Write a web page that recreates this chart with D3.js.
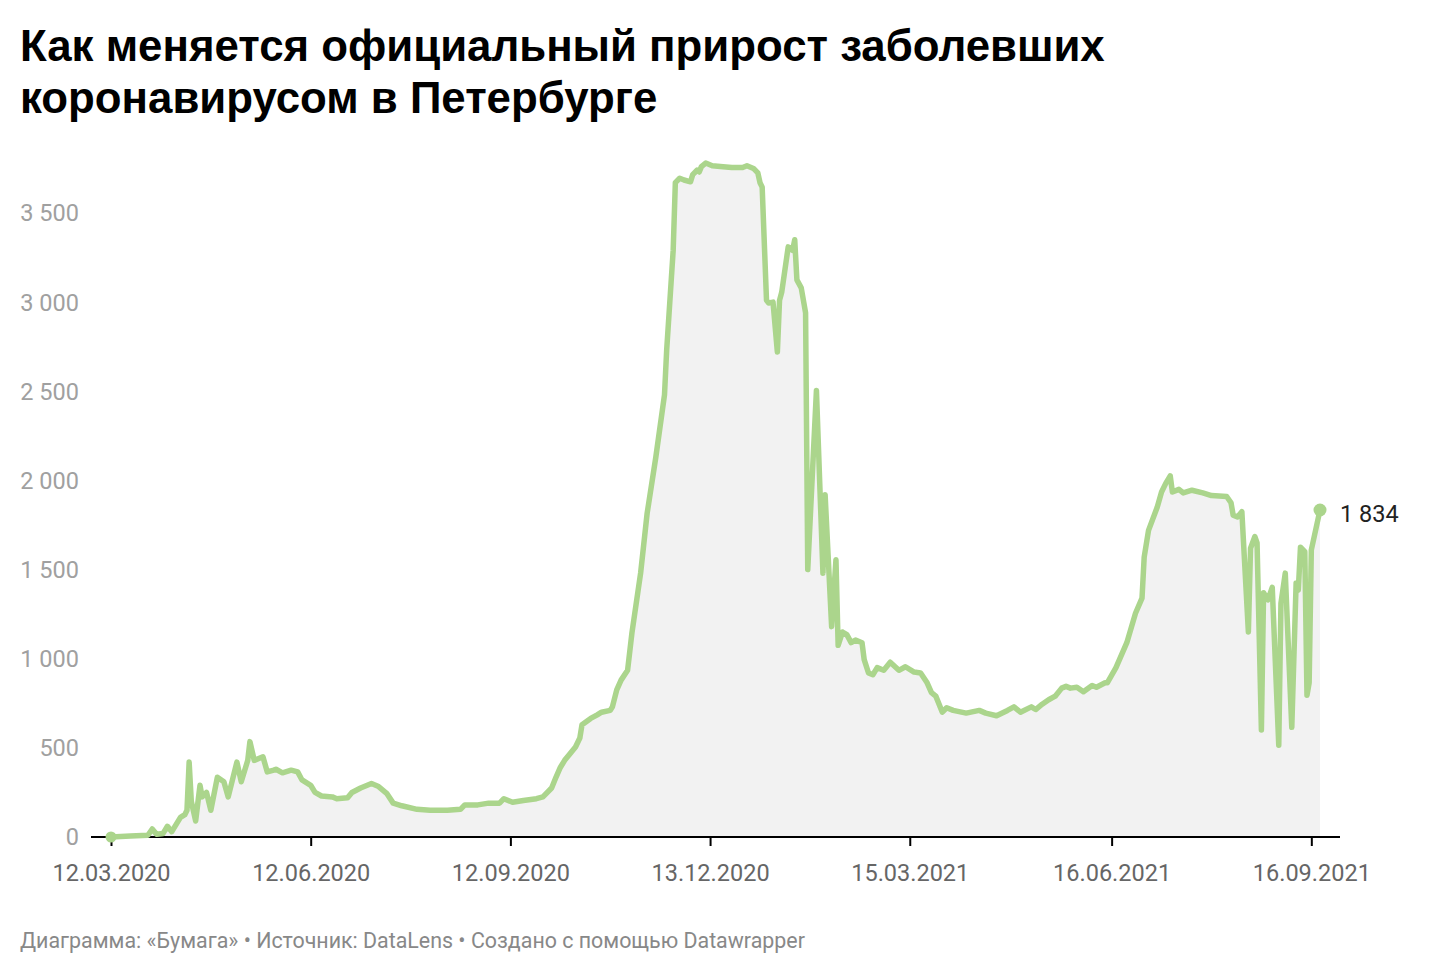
<!DOCTYPE html>
<html>
<head>
<meta charset="utf-8">
<script src="https://cdn.jsdelivr.net/npm/d3@7"></script>
<style>
  body { margin: 0; background: #fff; }
  svg { display: block; }
</style>
</head>
<body>
<svg id="chart" width="1440" height="974"></svg>
<script>
const titleLines = ["Как меняется официальный прирост заболевших", "коронавирусом в Петербурге"];
const footerText = "Диаграмма: «Бумага» • Источник: DataLens • Создано с помощью Datawrapper";

const dates = [
"2020-03-12","2020-03-21","2020-03-29","2020-03-31","2020-04-02","2020-04-05","2020-04-07","2020-04-09","2020-04-13","2020-04-15",
"2020-04-16","2020-04-17","2020-04-18","2020-04-20","2020-04-22","2020-04-23","2020-04-25","2020-04-27","2020-04-30","2020-05-03",
"2020-05-05","2020-05-09","2020-05-11","2020-05-14","2020-05-15","2020-05-17","2020-05-21","2020-05-23","2020-05-26","2020-05-27",
"2020-05-30","2020-06-03","2020-06-06","2020-06-08","2020-06-12","2020-06-14","2020-06-17","2020-06-22","2020-06-24","2020-06-29",
"2020-07-01","2020-07-05","2020-07-10","2020-07-13","2020-07-17","2020-07-20","2020-07-24","2020-07-31","2020-08-06","2020-08-14",
"2020-08-20","2020-08-22","2020-08-28","2020-09-02","2020-09-07","2020-09-09","2020-09-13","2020-09-18","2020-09-24","2020-09-27",
"2020-10-01","2020-10-03","2020-10-05","2020-10-07","2020-10-09","2020-10-12","2020-10-14","2020-10-15","2020-10-19","2020-10-22",
"2020-10-24","2020-10-28","2020-10-29","2020-10-31","2020-11-02","2020-11-05","2020-11-07","2020-11-11","2020-11-14","2020-11-18",
"2020-11-22","2020-11-23","2020-11-26","2020-11-27","2020-11-29","2020-12-01","2020-12-04","2020-12-05","2020-12-07","2020-12-08",
"2020-12-09","2020-12-11","2020-12-14","2020-12-19","2020-12-23","2020-12-28","2020-12-30","2021-01-02","2021-01-04","2021-01-05",
"2021-01-06","2021-01-08","2021-01-09","2021-01-11","2021-01-13","2021-01-14","2021-01-15","2021-01-18","2021-01-20","2021-01-21",
"2021-01-22","2021-01-24","2021-01-26","2021-01-27","2021-01-31","2021-02-03","2021-02-04","2021-02-07","2021-02-09","2021-02-10",
"2021-02-12","2021-02-14","2021-02-16","2021-02-18","2021-02-21","2021-02-22","2021-02-24","2021-02-26","2021-02-28","2021-03-03",
"2021-03-06","2021-03-10","2021-03-13","2021-03-17","2021-03-20","2021-03-23","2021-03-25","2021-03-27","2021-03-30","2021-04-01",
"2021-04-04","2021-04-10","2021-04-16","2021-04-19","2021-04-24","2021-04-29","2021-05-02","2021-05-05","2021-05-10","2021-05-12",
"2021-05-15","2021-05-18","2021-05-21","2021-05-24","2021-05-26","2021-05-28","2021-05-31","2021-06-03","2021-06-07","2021-06-09",
"2021-06-13","2021-06-14","2021-06-18","2021-06-23","2021-06-27","2021-06-30","2021-07-01","2021-07-03","2021-07-07","2021-07-09",
"2021-07-11","2021-07-13","2021-07-14","2021-07-17","2021-07-19","2021-07-23","2021-07-28","2021-08-01","2021-08-08","2021-08-10",
"2021-08-11","2021-08-13","2021-08-15","2021-08-18","2021-08-19","2021-08-21","2021-08-22","2021-08-24","2021-08-25","2021-08-27",
"2021-08-29","2021-09-01","2021-09-02","2021-09-04","2021-09-07","2021-09-09","2021-09-10","2021-09-11","2021-09-13","2021-09-14",
"2021-09-15","2021-09-16","2021-09-20"
];

const cases = [
0,5,10,45,15,20,60,30,110,125,
150,420,200,90,290,225,250,150,335,310,
225,420,310,430,535,430,450,365,375,380,
360,375,365,320,290,250,230,225,215,220,
250,275,300,285,245,190,175,155,150,150,
155,180,180,190,190,215,195,205,215,225,
275,335,390,430,460,505,555,630,665,685,
700,710,730,825,880,935,1145,1480,1815,2130,
2480,2730,3290,3670,3695,3685,3675,3715,3740,3730,
3760,3780,3765,3760,3755,3755,3765,3750,3725,3670,
3645,3010,2995,3000,2720,3010,3055,3310,3290,3350,
3125,3080,2940,1500,2505,1480,1920,1180,1555,1075,
1150,1135,1090,1105,1090,995,920,910,950,935,
980,935,955,925,920,865,810,790,700,725,
710,695,710,695,680,710,730,700,730,715,
745,770,790,835,845,835,840,815,850,840,
865,865,950,1090,1255,1340,1570,1720,1850,1935,
1985,2025,1935,1950,1930,1945,1930,1915,1910,1875,
1805,1795,1825,1150,1620,1685,1650,600,1370,1330,
1400,515,1310,1480,615,1425,1385,1625,1600,795,
865,1610,1834
];

const yTicks = [0, 500, 1000, 1500, 2000, 2500, 3000, 3500];
const xTickDates = ["2020-03-12","2020-06-12","2020-09-12","2020-12-13","2021-03-15","2021-06-16","2021-09-16"];

const parse = d3.timeParse("%Y-%m-%d");
const data = dates.map((d, i) => ({ date: parse(d), value: cases[i] }));

const svg = d3.select("#chart");
const plotLeft = 111, plotRight = 1320, plotTop = 213, plotBottom = 837;

const x = d3.scaleTime()
  .domain([parse("2020-03-12"), parse("2021-09-20")])
  .range([plotLeft, plotRight]);
const y = d3.scaleLinear().domain([0, 3500]).range([plotBottom, plotTop]);

// title
svg.append("g").selectAll("text").data(titleLines).join("text")
  .attr("x", 20)
  .attr("y", (d, i) => 61 + i * 52)
  .attr("font-family", "'Liberation Sans', Arial, sans-serif")
  .attr("font-weight", "bold")
  .attr("font-size", 43.8)
  .attr("fill", "#000")
  .text(d => d);

// area
svg.append("path")
  .datum(data)
  .attr("fill", "#f2f2f2")
  .attr("d", d3.area().x(d => x(d.date)).y0(y(0)).y1(d => y(d.value)));

// y labels
const fmt = v => d3.format(",")(v).replace(/,/g, " ");
svg.append("g").selectAll("text").data(yTicks).join("text")
  .attr("x", 79)
  .attr("y", d => y(d))
  .attr("dy", "0.36em")
  .attr("text-anchor", "end")
  .attr("font-family", "Roboto, sans-serif")
  .attr("font-size", 23.5)
  .attr("fill", "#a0a0a0")
  .text(fmt);

// x axis
const xAxis = svg.append("g")
  .attr("transform", `translate(0,${plotBottom})`)
  .call(d3.axisBottom(x)
    .tickValues(xTickDates.map(parse))
    .tickFormat(d3.timeFormat("%d.%m.%Y"))
    .tickSize(9)
    .tickPadding(18));
xAxis.select(".domain").remove();
xAxis.selectAll(".tick line").attr("stroke", "#000").attr("stroke-width", 2);
xAxis.selectAll(".tick text")
  .attr("font-family", "Roboto, sans-serif")
  .attr("font-size", 23.5)
  .attr("fill", "#666");
svg.append("line")
  .attr("x1", 91).attr("x2", 1340)
  .attr("y1", plotBottom).attr("y2", plotBottom)
  .attr("stroke", "#000").attr("stroke-width", 2);

// line
svg.append("path")
  .datum(data)
  .attr("fill", "none")
  .attr("stroke", "#abd58c")
  .attr("stroke-width", 5.5)
  .attr("stroke-linejoin", "round")
  .attr("stroke-linecap", "round")
  .attr("d", d3.line().x(d => x(d.date)).y(d => y(d.value)));

// start & end dots
const first = data[0], last = data[data.length - 1];
svg.append("circle").attr("cx", x(first.date)).attr("cy", y(first.value)).attr("r", 5.5).attr("fill", "#abd58c");
svg.append("circle").attr("cx", x(last.date)).attr("cy", y(last.value)).attr("r", 6.5).attr("fill", "#abd58c");
svg.append("text")
  .attr("x", x(last.date) + 20)
  .attr("y", y(last.value) + 4)
  .attr("dy", "0.36em")
  .attr("font-family", "Roboto, sans-serif")
  .attr("font-size", 23.5)
  .attr("fill", "#222")
  .text(fmt(last.value));

// footer
svg.append("text")
  .attr("x", 20).attr("y", 948)
  .attr("font-family", "Roboto, sans-serif")
  .attr("font-size", 21.4)
  .attr("fill", "#888")
  .text(footerText);
</script>
</body>
</html>
